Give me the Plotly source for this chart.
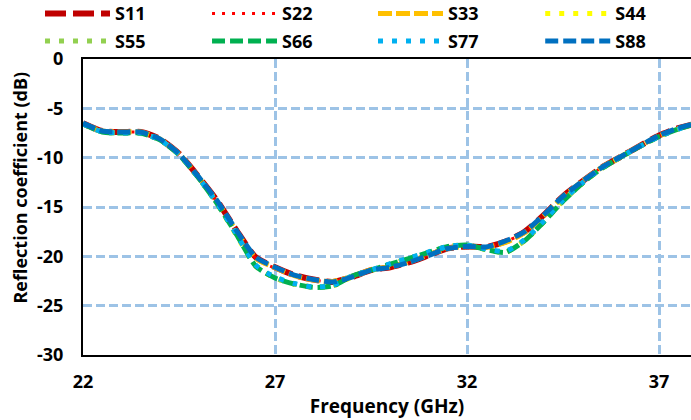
import plotly.graph_objects as go

freq = [22.0, 22.5, 23.0, 23.5, 24.0, 24.5, 25.0, 25.5, 26.0, 26.5, 27.0, 27.5, 28.0, 28.5,
        29.0, 29.5, 30.0, 30.5, 31.0, 31.5, 32.0, 32.5, 33.0, 33.5, 34.0, 34.5, 35.0, 35.5,
        36.0, 36.5, 37.0, 37.5, 38.0]

s11 = [-6.5, -7.3, -7.4, -7.4, -8.1, -9.6, -11.9, -14.4, -17.4, -20.1, -21.1, -21.9, -22.35, -22.6,
       -22.1, -21.4, -21.1, -20.6, -19.9, -19.2, -19.0, -19.05, -18.5, -17.5, -15.8, -13.9, -12.4, -11.0,
       -9.9, -8.8, -7.75, -7.0, -6.5]
s22 = [-6.5, -7.3, -7.4, -7.45, -8.1, -9.6, -11.9, -14.5, -17.5, -20.2, -21.2, -21.9, -22.4, -22.6,
       -22.0, -21.4, -21.0, -20.5, -19.8, -19.2, -19.0, -19.0, -18.5, -17.6, -15.9, -14.0, -12.4, -11.0,
       -9.9, -8.8, -7.8, -7.0, -6.5]
s33 = [-6.55, -7.3, -7.4, -7.4, -8.1, -9.6, -11.95, -14.5, -17.5, -20.2, -21.15, -21.95, -22.4, -22.55,
       -22.05, -21.35, -21.05, -20.55, -19.85, -19.2, -19.0, -19.1, -18.6, -17.6, -15.9, -13.95, -12.4, -11.0,
       -9.9, -8.8, -7.8, -7.05, -6.5]
s44 = [-6.6, -7.4, -7.5, -7.5, -8.2, -9.7, -12.0, -14.7, -17.9, -21.0, -22.2, -22.8, -23.1, -23.0,
       -22.1, -21.4, -20.8, -20.2, -19.6, -19.0, -18.85, -19.3, -19.6, -18.4, -16.5, -14.3, -12.6, -11.1,
       -9.95, -8.85, -7.85, -7.1, -6.5]
s55 = [-6.6, -7.4, -7.5, -7.55, -8.2, -9.7, -12.0, -14.7, -17.8, -21.0, -22.2, -22.8, -23.15, -23.0,
       -22.0, -21.45, -20.8, -20.2, -19.6, -19.0, -18.9, -19.3, -19.55, -18.4, -16.5, -14.4, -12.6, -11.1,
       -9.95, -8.85, -7.85, -7.1, -6.5]
s66 = [-6.6, -7.4, -7.5, -7.5, -8.2, -9.7, -12.0, -14.7, -17.8, -21.0, -22.2, -22.8, -23.15, -23.0,
       -22.0, -21.4, -20.8, -20.2, -19.6, -19.0, -18.85, -19.3, -19.6, -18.4, -16.5, -14.4, -12.6, -11.1,
       -9.95, -8.85, -7.85, -7.1, -6.5]
s77 = [-6.6, -7.4, -7.5, -7.5, -8.2, -9.65, -12.0, -14.65, -17.8, -20.9, -22.1, -22.75, -23.1, -22.95,
       -22.0, -21.4, -20.75, -20.15, -19.55, -19.0, -18.85, -19.25, -19.5, -18.3, -16.4, -14.3, -12.55, -11.05,
       -9.9, -8.85, -7.85, -7.1, -6.5]
s88 = [-6.5, -7.3, -7.4, -7.4, -8.1, -9.6, -11.9, -14.4, -17.4, -20.1, -21.1, -21.9, -22.35, -22.6,
       -22.1, -21.4, -21.1, -20.6, -19.9, -19.2, -19.0, -19.05, -18.45, -17.5, -15.8, -13.9, -12.4, -11.0,
       -9.9, -8.8, -7.75, -7.0, -6.5]

names = ["S11", "S22", "S33", "S44", "S55", "S66", "S77", "S88"]
series = [s11, s22, s33, s44, s55, s66, s77, s88]
colors = ["#C00000", "#FF0000", "#FFC000", "#FFFF00", "#92D050", "#00B050", "#00B0F0", "#0070C0"]
widths = [6, 3, 5, 5, 5, 5, 5, 5]
dashes = ["21px,7px", "3px,7px", "14px,4px", "5px,9px", "5px,9px", "13px,5px", "5px,9px", "13px,5px"]

y_ticks = [0, -5, -10, -15, -20, -25, -30]
x_ticks = [22, 27, 32, 37]

FONT = "Open Sans, Noto Sans, sans-serif"

# legend grid: 4 columns x 2 rows
leg_cols = [-0.0707, 0.204, 0.477, 0.752]
leg_rows = [1.153, 1.06]

fig = go.Figure()
legend_layout = {"showlegend": True, "legend": dict(visible=False)}
legfont = dict(family=FONT, size=18, color="black", weight="bold")
for i, (n, s, c, w, d) in enumerate(zip(names, series, colors, widths, dashes)):
    lid = f"legend{i + 2}"
    fig.add_trace(go.Scatter(x=freq, y=s, name=n, mode="lines", showlegend=True,
                             line=dict(color=c, width=w, dash=d, shape="spline", smoothing=0.6),
                             legend=lid))
    legend_layout[lid] = dict(orientation="h", x=leg_cols[i % 4], xanchor="left",
                              y=leg_rows[i // 4], yanchor="middle", font=legfont,
                              itemwidth=65, bgcolor="rgba(0,0,0,0)")

grid = dict(showgrid=True, gridcolor="#9DC3E6", gridwidth=2.5, griddash="9px,4px")
fig.update_xaxes(range=[22, 37.83], tickvals=x_ticks, ticktext=[str(v) for v in x_ticks],
                 showline=True, linecolor="black", linewidth=2, mirror=True,
                 zeroline=False, ticks="", ticklabelstandoff=9,
                 tickfont=dict(family=FONT, size=18, color="black", weight="bold"),
                 title=dict(text="Frequency (GHz)", standoff=0,
                            font=dict(family=FONT, size=19, color="black", weight="bold")),
                 **grid)
fig.update_yaxes(range=[-30, 0], tickvals=y_ticks, ticktext=[str(v) for v in y_ticks],
                 showline=True, linecolor="black", linewidth=2, mirror=False,
                 zeroline=False, ticks="", ticklabelstandoff=14,
                 tickfont=dict(family=FONT, size=18, color="black", weight="bold"),
                 **grid)

fig.add_annotation(text="Reflection coefficient (dB)", textangle=-90, xref="paper", yref="paper",
                   x=-0.104, y=0.565, xanchor="center", yanchor="middle", showarrow=False,
                   font=dict(family=FONT, size=18, color="black", weight="bold"))

fig.update_layout(
    width=691, height=420,
    margin=dict(l=83, r=0, t=59, b=65, autoexpand=False),
    plot_bgcolor="white", paper_bgcolor="white",
    **legend_layout,
)

fig.write_html("out.html")
